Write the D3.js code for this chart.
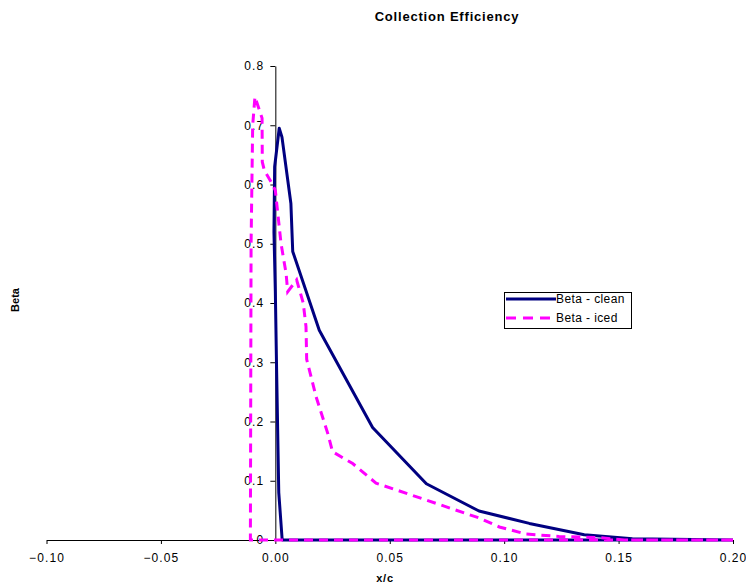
<!DOCTYPE html>
<html><head><meta charset="utf-8">
<script src="https://cdn.jsdelivr.net/npm/d3@7"></script>
<style>body{margin:0;background:#fff}svg{display:block}text{font-family:"Liberation Sans",Arial,sans-serif}</style>
</head><body>
<svg id="c" width="746" height="588"></svg>
<script>
const title = "Collection Efficiency";
const xLabel = "x/c";
const yLabel = "Beta";
const seriesNames = ["Beta - clean", "Beta - iced"];
const xTicks = [-0.10, -0.05, 0.00, 0.05, 0.10, 0.15, 0.20];
const yTicks = [0, 0.1, 0.2, 0.3, 0.4, 0.5, 0.6, 0.7, 0.8];

const cleanX = [0.200, 0.003, 0.0015, 0.0005, 0.0, -0.0006, -0.0003, 0.0017, 0.0029, 0.0068, 0.0076, 0.0192, 0.0425, 0.066, 0.089, 0.111, 0.135, 0.156, 0.200];
const cleanY = [0, 0, 0.08, 0.30, 0.42, 0.52, 0.63, 0.695, 0.68, 0.568, 0.487, 0.354, 0.19, 0.095, 0.049, 0.028, 0.009, 0.002, 0];

const icedX = [0.200, -0.0109, -0.0106, -0.0099, -0.0089, -0.0058, -0.0057, -0.0048, -0.0012, 0.0, 0.0025, 0.0047, 0.0054, 0.0093, 0.0122, 0.0134, 0.0137, 0.0178, 0.0229, 0.025, 0.0338, 0.044, 0.0659, 0.0892, 0.0979, 0.1096, 0.124, 0.1416, 0.1525, 0.200];
const icedY = [0, 0, 0.5, 0.70, 0.748, 0.712, 0.638, 0.624, 0.60, 0.59, 0.50, 0.45, 0.419, 0.439, 0.40, 0.36, 0.305, 0.242, 0.18, 0.149, 0.129, 0.096, 0.0675, 0.037, 0.022, 0.010, 0.006, 0.004, 0, 0];

const svg = d3.select("#c");
const x = d3.scaleLinear().domain([-0.10, 0.20]).range([46.5, 733]);
const y = d3.scaleLinear().domain([0, 0.8]).range([540, 66]);

svg.append("g").attr("transform", "translate(0,540)")
  .call(d3.axisBottom(x).tickValues(xTicks).tickFormat(d3.format(".2f")).tickSize(4).tickSizeOuter(0).tickPadding(9))
  .call(g => g.selectAll("text").attr("font-size", 12).attr("letter-spacing", 1.1).attr("fill", "#000").attr("font-family", "Liberation Sans, Arial, sans-serif"))
  .call(g => g.selectAll("line,path").attr("stroke", "#000"));

svg.append("g").attr("transform", `translate(${x(0)},0)`)
  .call(d3.axisLeft(y).tickValues(yTicks).tickFormat(d => d === 0 ? "0" : d3.format(".1f")(d)).tickSize(5).tickSizeOuter(0).tickPadding(6))
  .call(g => g.selectAll("text").attr("font-size", 12).attr("letter-spacing", 1.1).attr("fill", "#000").attr("font-family", "Liberation Sans, Arial, sans-serif"))
  .call(g => g.selectAll("line,path").attr("stroke", "#000"));

const line = d3.line().x(d => x(d[0])).y(d => y(d[1]));
const cleanData = cleanX.map((v, i) => [v, cleanY[i]]);
const icedData = icedX.map((v, i) => [v, icedY[i]]);

svg.append("path").datum(cleanData).attr("d", line)
  .attr("fill", "none").attr("stroke", "#000080").attr("stroke-width", 3).attr("stroke-linejoin", "round");
svg.append("path").datum(icedData).attr("d", line)
  .attr("fill", "none").attr("stroke", "#FF00FF").attr("stroke-width", 3).attr("stroke-dasharray", "9,6");

svg.append("text").attr("x", 447).attr("y", 21).attr("text-anchor", "middle")
  .attr("font-size", 13).attr("letter-spacing", 0.8).attr("font-weight", "bold").text(title);
svg.append("text").attr("x", 385).attr("y", 582).attr("text-anchor", "middle")
  .attr("font-size", 11).attr("letter-spacing", 0.8).attr("font-weight", "bold").text(xLabel);
svg.append("text").attr("transform", "translate(19,300) rotate(-90)").attr("text-anchor", "middle")
  .attr("font-size", 11).attr("font-weight", "bold").text(yLabel);

const lg = svg.append("g");
lg.append("rect").attr("x", 504.5).attr("y", 292.5).attr("width", 127).attr("height", 36)
  .attr("fill", "#fff").attr("stroke", "#000").attr("stroke-width", 1);
const styles = [{c: "#000080", d: null}, {c: "#FF00FF", d: "10,7"}];
seriesNames.forEach((n, i) => {
  const yy = 299 + i * 19;
  lg.append("line").attr("x1", 506).attr("x2", 556).attr("y1", yy).attr("y2", yy)
    .attr("stroke", styles[i].c).attr("stroke-width", 3).attr("stroke-dasharray", styles[i].d);
  lg.append("text").attr("x", 556).attr("y", yy + 4).attr("font-size", 12).attr("letter-spacing", 0.4).text(n);
});
</script>
</body></html>
